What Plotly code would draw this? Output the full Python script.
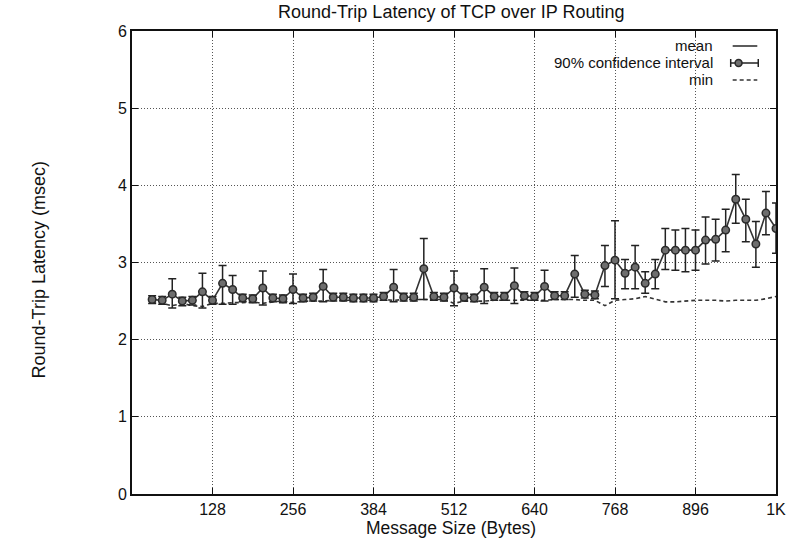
import numpy as np
import plotly.graph_objects as go

# ---------------- data ----------------
sizes = [32, 48, 64, 80, 96, 112, 128, 144, 160, 176,
         192, 208, 224, 240, 256, 272, 288, 304, 320, 336,
         352, 368, 384, 400, 416, 432, 448, 464, 480, 496,
         512, 528, 544, 560, 576, 592, 608, 624, 640, 656,
         672, 688, 704, 720, 736, 752, 768, 784, 800, 816,
         832, 848, 864, 880, 896, 912, 928, 944, 960, 976,
         992, 1008, 1024]

mean_ms = [2.52, 2.51, 2.59, 2.50, 2.51, 2.62, 2.51, 2.73, 2.65, 2.54,
           2.53, 2.67, 2.54, 2.53, 2.65, 2.54, 2.55, 2.69, 2.55, 2.55,
           2.54, 2.54, 2.54, 2.56, 2.68, 2.55, 2.55, 2.92, 2.56, 2.55,
           2.67, 2.55, 2.54, 2.68, 2.56, 2.56, 2.70, 2.57, 2.56, 2.69,
           2.57, 2.57, 2.85, 2.59, 2.58, 2.96, 3.03, 2.86, 2.94, 2.73,
           2.85, 3.16, 3.16, 3.16, 3.16, 3.29, 3.30, 3.42, 3.82, 3.56,
           3.24, 3.64, 3.44]

ci_upper = [2.57, 2.56, 2.79, 2.55, 2.56, 2.86, 2.56, 2.96, 2.83, 2.59,
            2.58, 2.89, 2.59, 2.58, 2.85, 2.59, 2.60, 2.91, 2.60, 2.60,
            2.59, 2.59, 2.59, 2.61, 2.91, 2.60, 2.60, 3.31, 2.61, 2.60,
            2.89, 2.60, 2.59, 2.92, 2.61, 2.61, 2.93, 2.62, 2.61, 2.90,
            2.62, 2.62, 3.09, 2.64, 2.63, 3.22, 3.54, 3.04, 3.22, 2.88,
            3.04, 3.44, 3.42, 3.44, 3.42, 3.59, 3.56, 3.69, 4.14, 3.82,
            3.53, 3.92, 3.77]

ci_lower = [2.47, 2.46, 2.41, 2.44, 2.45, 2.41, 2.46, 2.46, 2.46, 2.49,
            2.48, 2.45, 2.49, 2.48, 2.47, 2.49, 2.50, 2.49, 2.50, 2.50,
            2.49, 2.49, 2.49, 2.51, 2.49, 2.50, 2.50, 2.52, 2.51, 2.50,
            2.44, 2.50, 2.49, 2.47, 2.51, 2.51, 2.47, 2.52, 2.51, 2.50,
            2.52, 2.52, 2.55, 2.54, 2.53, 2.69, 2.53, 2.66, 2.66, 2.60,
            2.66, 2.91, 2.90, 2.88, 2.90, 2.98, 3.02, 3.14, 3.51, 3.27,
            2.94, 3.36, 3.12]

min_ms = [2.48, 2.47, 2.44, 2.47, 2.44, 2.43, 2.47, 2.47, 2.48, 2.48,
          2.49, 2.47, 2.49, 2.50, 2.48, 2.50, 2.50, 2.50, 2.51, 2.51,
          2.51, 2.51, 2.51, 2.52, 2.51, 2.52, 2.52, 2.52, 2.52, 2.52,
          2.47, 2.50, 2.50, 2.50, 2.51, 2.51, 2.51, 2.51, 2.51, 2.51,
          2.52, 2.52, 2.52, 2.51, 2.51, 2.44, 2.51, 2.52, 2.53, 2.56,
          2.52, 2.49, 2.49, 2.50, 2.51, 2.51, 2.51, 2.50, 2.51, 2.51,
          2.51, 2.53, 2.56]

x_tickvals = [128, 256, 384, 512, 640, 768, 896, 1024]
x_ticktext = ["128", "256", "384", "512", "640", "768", "896", "1K"]
y_tickvals = [0, 1, 2, 3, 4, 5, 6]

title_text = "Round-Trip Latency of TCP over IP Routing"
x_title = "Message Size (Bytes)"
y_title = "Round-Trip Latency (msec)"
legend_labels = ["mean", "90% confidence interval", "min"]

# ---------------- figure ----------------
FONT = "Liberation Sans, Arial, Helvetica, sans-serif"
INK = "#222222"

mean_arr = np.array(mean_ms)
err_plus = np.array(ci_upper) - mean_arr
err_minus = mean_arr - np.array(ci_lower)

fig = go.Figure()

fig.add_trace(go.Scatter(
    x=sizes, y=min_ms, mode="lines",
    line=dict(color="#333333", width=1.6, dash="4px,3px"),
    showlegend=False, hoverinfo="skip"))

fig.add_trace(go.Scatter(
    x=sizes, y=mean_ms, mode="lines",
    line=dict(color="#333333", width=1.6),
    showlegend=False))

fig.add_trace(go.Scatter(
    x=sizes, y=mean_ms, mode="markers",
    marker=dict(symbol="circle", size=7.5, color="#6e6e6e",
                line=dict(color="#2a2a2a", width=1.5)),
    error_y=dict(type="data", symmetric=False, array=err_plus,
                 arrayminus=err_minus, color=INK, thickness=1.5, width=4),
    showlegend=False))

# plot area geometry (pixels) for paper conversion
L, R, T, B = 132, 786, 31, 494
W, H = R - L, B - T
px = lambda x: (x - L) / W
py = lambda y: (B - y) / H

annotations = [
    dict(text=title_text, x=px(456), y=py(12), xref="paper", yref="paper",
         xanchor="center", yanchor="middle", showarrow=False, borderpad=0,
         font=dict(family=FONT, size=18, color="#111")),
    dict(text=x_title, x=px(456), y=py(528), xref="paper", yref="paper",
         xanchor="center", yanchor="middle", showarrow=False, borderpad=0,
         font=dict(family=FONT, size=17.5, color="#111")),
    dict(text=y_title, x=px(38), y=py(270), xref="paper", yref="paper",
         xanchor="center", yanchor="middle", textangle=-90, showarrow=False,
         borderpad=0, font=dict(family=FONT, size=18, color="#111")),
]
row_y = [46, 63, 80]
for lab, ry in zip(legend_labels, row_y):
    annotations.append(dict(text=lab, x=px(723), y=py(ry), xref="paper", yref="paper",
                            xanchor="right", yanchor="middle", showarrow=False,
                            borderpad=0,
                            font=dict(family=FONT, size=15, color="#111")))

shapes = [
    # mean sample
    dict(type="line", xref="paper", yref="paper", x0=px(742), x1=px(767),
         y0=py(row_y[0]), y1=py(row_y[0]), line=dict(color="#333", width=1.6)),
    # CI sample
    dict(type="line", xref="paper", yref="paper", x0=px(740), x1=px(768),
         y0=py(row_y[1]), y1=py(row_y[1]), line=dict(color=INK, width=1.5)),
    dict(type="line", xref="paper", yref="paper", x0=px(740), x1=px(740),
         y0=py(row_y[1] - 4), y1=py(row_y[1] + 4), line=dict(color=INK, width=1.5)),
    dict(type="line", xref="paper", yref="paper", x0=px(768), x1=px(768),
         y0=py(row_y[1] - 4), y1=py(row_y[1] + 4), line=dict(color=INK, width=1.5)),
    dict(type="circle", xref="paper", yref="paper", x0=px(744.5), x1=px(751.5),
         y0=py(row_y[1] + 3.5), y1=py(row_y[1] - 3.5),
         fillcolor="#6e6e6e", line=dict(color="#2a2a2a", width=1.5)),
    # min sample
    dict(type="line", xref="paper", yref="paper", x0=px(742), x1=px(767),
         y0=py(row_y[2]), y1=py(row_y[2]), line=dict(color="#333", width=1.6, dash="4px,3px")),
]

axis_common = dict(
    showline=True, linecolor="#111", linewidth=1.6, mirror="ticks",
    ticks="inside", ticklen=6, tickcolor="#111", tickwidth=1.4,
    showgrid=True, gridcolor="#555", griddash="1px,2px", gridwidth=1,
    zeroline=False, tickfont=dict(family=FONT, size=16, color="#111"),
)

fig.update_layout(
    width=796, height=540,
    margin=dict(l=L, r=796 - R, t=T, b=540 - B),
    paper_bgcolor="white", plot_bgcolor="white",
    xaxis=dict(range=[0, 1024], tickvals=x_tickvals, ticktext=x_ticktext, **axis_common),
    yaxis=dict(range=[0, 6], tickvals=y_tickvals, **axis_common),
    annotations=annotations, shapes=shapes,
    showlegend=False,
)

fig.write_html("out.html")
